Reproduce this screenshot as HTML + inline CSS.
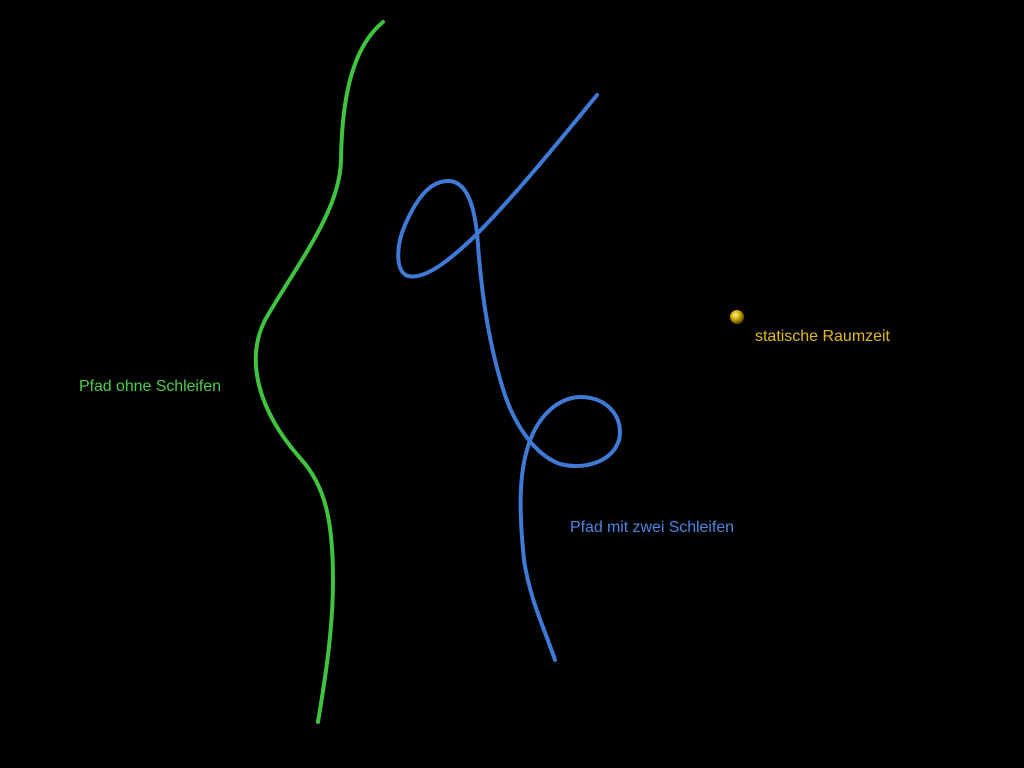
<!DOCTYPE html>
<html><head><style>
html,body{margin:0;padding:0;background:#000;width:1024px;height:768px;overflow:hidden}
</style></head><body>
<svg width="1024" height="768" viewBox="0 0 1024 768" xmlns="http://www.w3.org/2000/svg">
<rect width="1024" height="768" fill="#000"/>
<path d="M383,22 C355,45 342,90 341,160 C340,210 300,260 265,320 C245,360 258,410 300,458 C325,485 333,520 333,580 C333,630 325,680 318,722" fill="none" stroke="#3fc43f" stroke-width="4" stroke-linecap="round"/>
<path d="M597,95 C560,140 520,190 476,235 C450,260 425,280 408,276 C395,272 396,245 405,225 C418,195 432,180 450,181 C470,183 476,215 478,245 C482,300 490,350 505,395 C515,425 535,455 560,464 C585,470 612,462 619,440 C624,420 610,397 580,397 C555,398 535,420 527,450 C518,480 520,520 524,560 C530,600 545,630 555,660" fill="none" stroke="#3f7ad6" stroke-width="4" stroke-linecap="round"/>
<defs><radialGradient id="g" cx="40%" cy="35%" r="60%"><stop offset="0" stop-color="#fff3a0"/><stop offset="0.5" stop-color="#d4b000"/><stop offset="1" stop-color="#6a5400"/></radialGradient></defs>
<circle cx="737" cy="317" r="7" fill="url(#g)"/>
<text x="79" y="391" font-family="Liberation Sans, sans-serif" font-size="16" textLength="142" fill="#4ccc4c">Pfad ohne Schleifen</text>
<text x="570" y="532" font-family="Liberation Sans, sans-serif" font-size="16" textLength="164" fill="#4a86e0">Pfad mit zwei Schleifen</text>
<text x="755" y="341" font-family="Liberation Sans, sans-serif" font-size="16" textLength="135" fill="#e0b820">statische Raumzeit</text>
</svg>
</body></html>
